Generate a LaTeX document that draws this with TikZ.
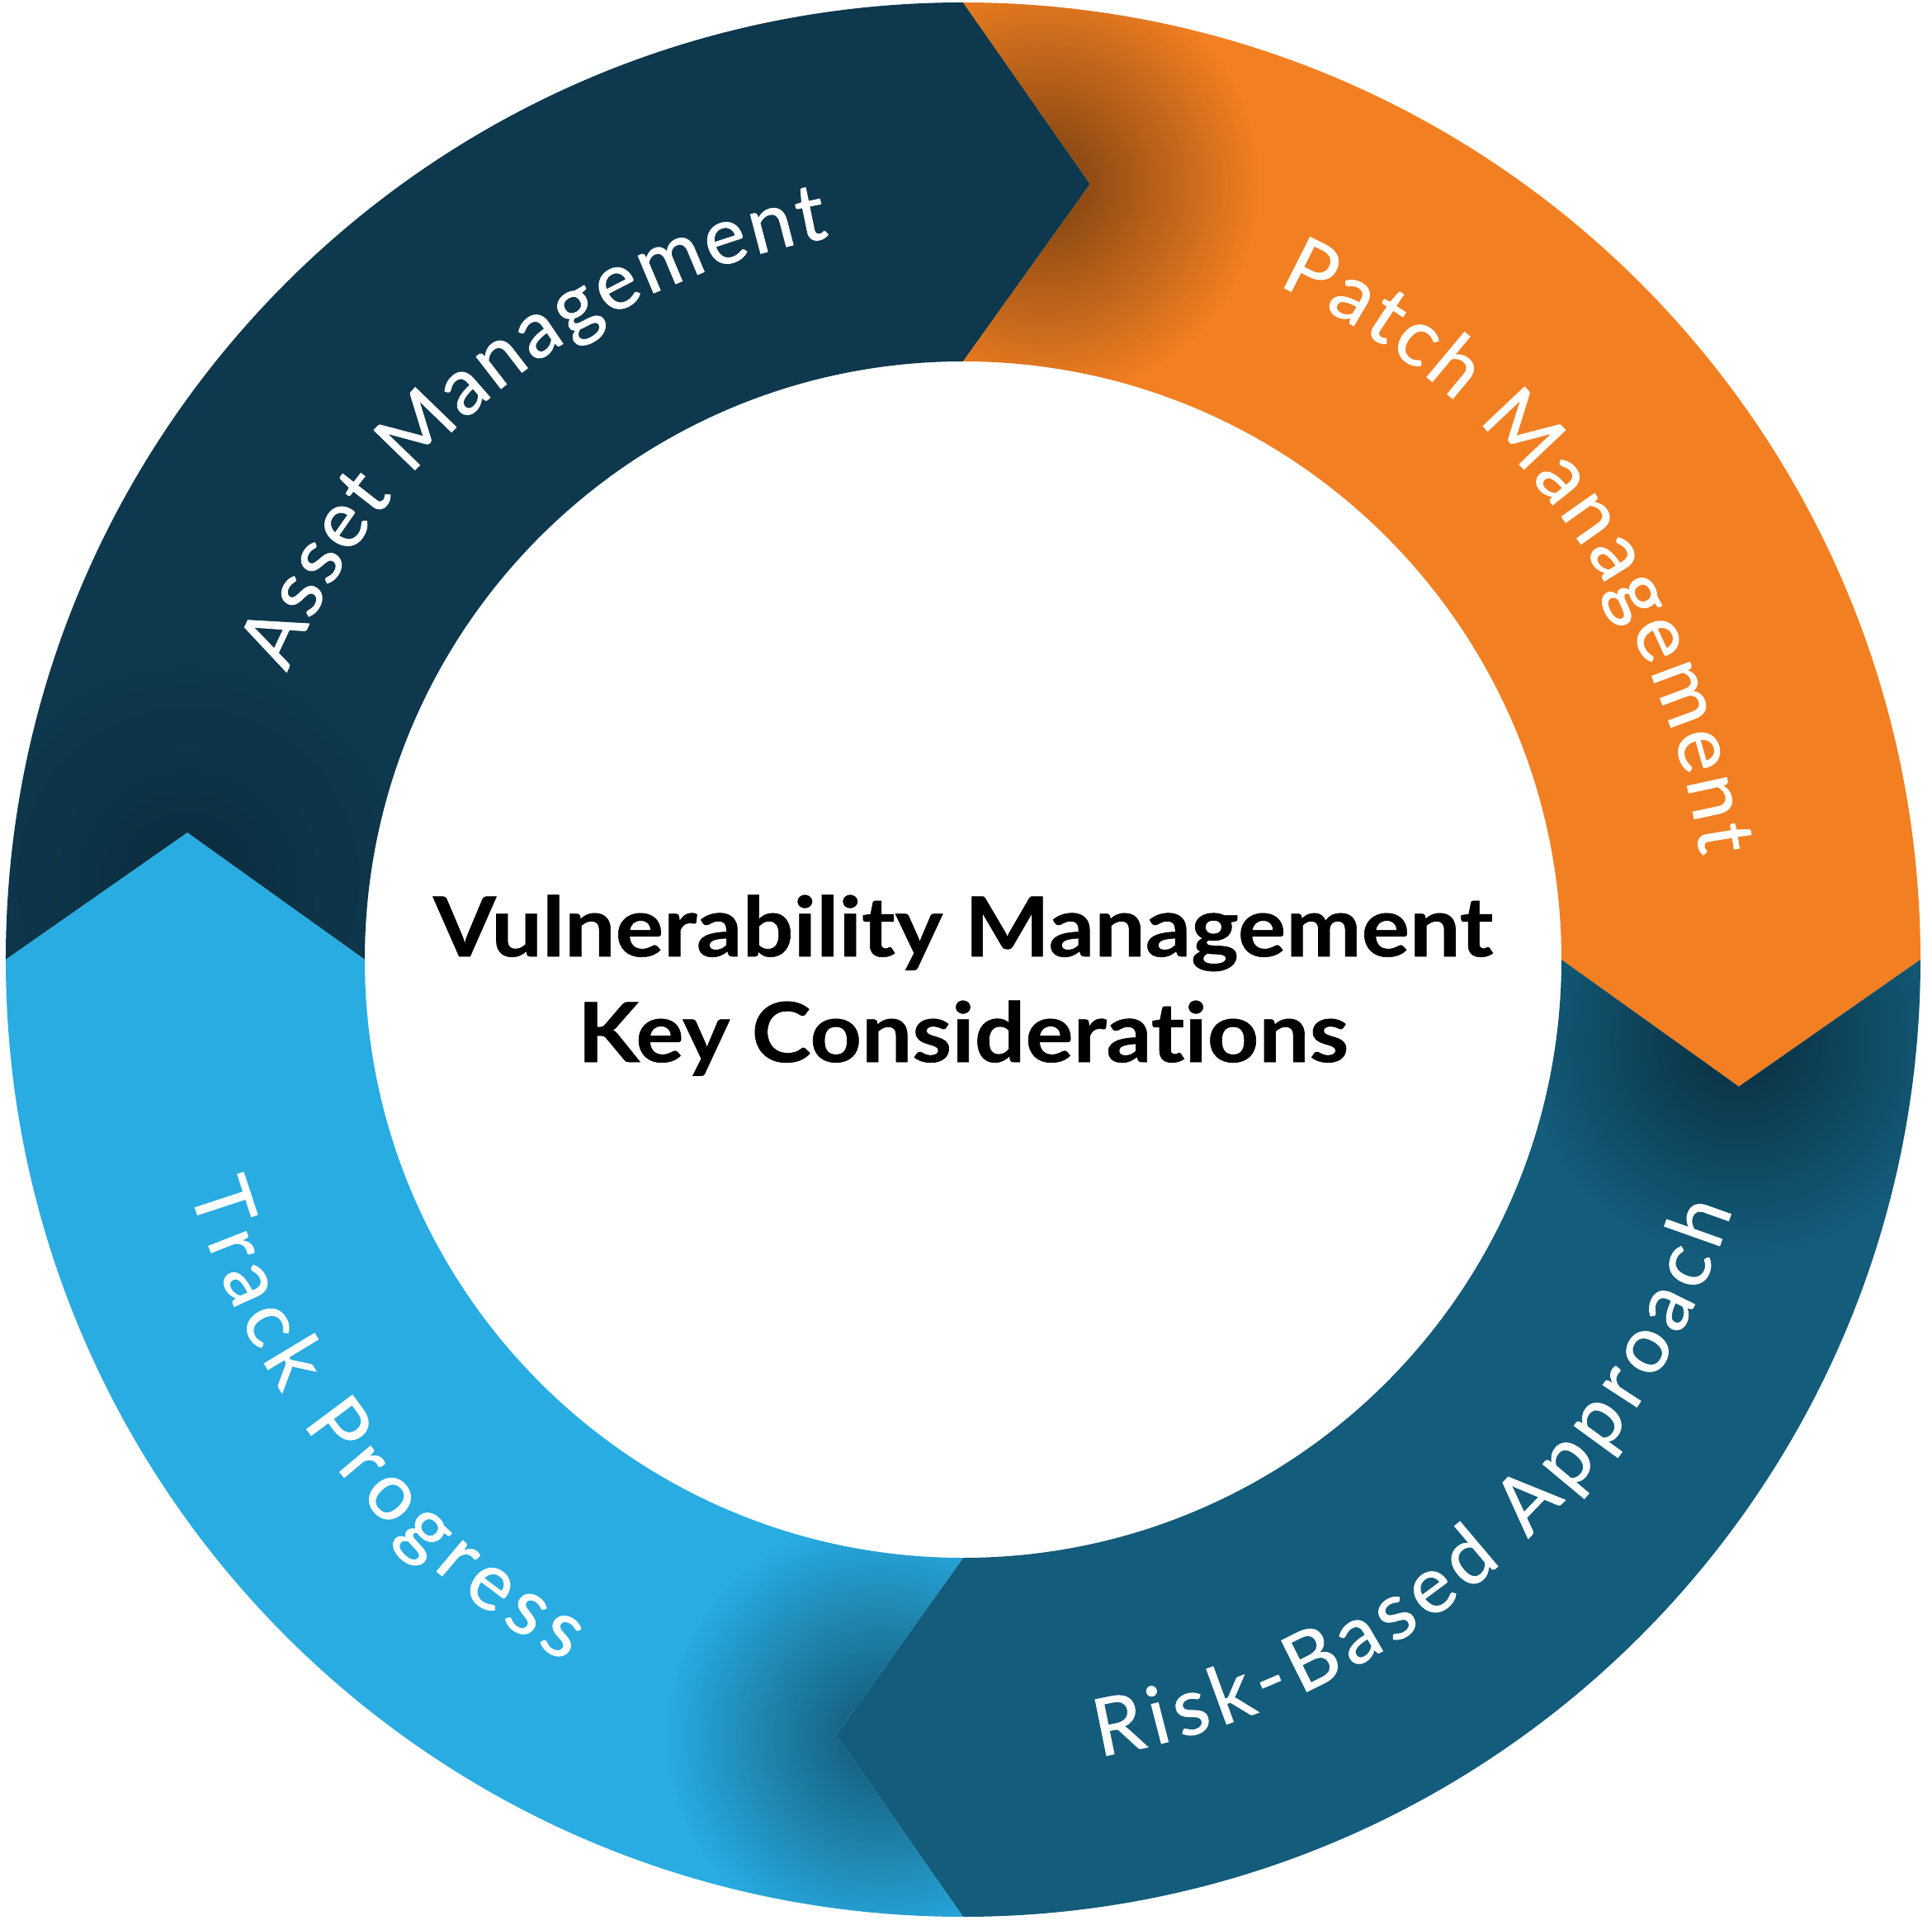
\documentclass[tikz,border=0pt]{standalone}
\usepackage{graphicx}
\usepackage{fontspec}
\setmainfont{Lato}[Ligatures=NoCommon]
\newfontfamily\labelfont{Lato}[Ligatures=NoCommon, FakeBold=0.9]
\newfontfamily\titlefont{Lato}[Ligatures=NoCommon, BoldFeatures={FakeBold=0.6}]
\usetikzlibrary{decorations.text,fadings}
\definecolor{segnavy}{HTML}{0E384D}
\definecolor{segorange}{HTML}{F28022}
\definecolor{segteal}{HTML}{145C7B}
\definecolor{segsky}{HTML}{28ACE2}
\tikzfading[name=shadowfade, inner color=transparent!0, outer color=transparent!100]
\newcommand\ringseg[1]{({#1}:\Ro) arc[start angle={#1}, end angle={#1-90}, radius=\Ro] -- ({#1-99.3}:\Rt) -- ({#1-90}:\Ri) arc[start angle={#1-90}, end angle={#1}, radius=\Ri] -- ({#1-9.3}:\Rt) -- cycle}
\tikzset{
  titlestyle/.style={font=\titlefont\bfseries\fontsize{28.5}{34}\selectfont, text=black, inner sep=0pt, anchor=base},
  shadowdisc/.style={black, opacity=0.5, path fading=shadowfade},
  ringlabel/.style={decorate, decoration={text along path, text={|\labelfont\fontsize{27.5}{30}\selectfont|#1}, text color=white, text align={fit to path}}},
}
\begin{document}
\begin{tikzpicture}
\useasboundingbox (-11.67,-11.69) rectangle (11.74,11.63);
\def\Ro{11.6}\def\Ri{7.25}\def\Rt{9.525}
% segments
\fill[segnavy] \ringseg{180};
\fill[segorange] \ringseg{90};
\fill[segteal] \ringseg{0};
\fill[segsky] \ringseg{270};
% shadows cast by arrow tips
\begin{scope}
  \clip \ringseg{90};
  \fill[shadowdisc] (84:9.45) circle (2.6cm);
\end{scope}
\begin{scope}
  \clip \ringseg{0};
  \fill[shadowdisc] (-6:9.45) circle (2.6cm);
\end{scope}
\begin{scope}
  \clip \ringseg{270};
  \fill[shadowdisc] (264:9.45) circle (2.6cm);
\end{scope}
\begin{scope}
  \clip \ringseg{180};
  \fill[shadowdisc, opacity=0.18] (174:9.45) circle (2.6cm);
\end{scope}
% labels along the ring
\path[ringlabel={Asset Management}]
  (157:8.9) arc[start angle=157, end angle=100.5, radius=8.9];
\path[ringlabel={Patch Management}]
  (65:9.02) arc[start angle=65, end angle=8, radius=9.02];
\path[ringlabel={Risk-Based Approach}]
  (-80.3:9.8) arc[start angle=-80.3, end angle=-18, radius=9.8];
\path[ringlabel={Track Progress}]
  (196.5:9.78) arc[start angle=196.5, end angle=240.5, radius=9.78];
% title
\node[titlestyle] (title1) at (0,0.04) {\scalebox{1.09}[1]{Vulnerability Management}};
\node[titlestyle] (title2) at (0,-1.24) {\scalebox{1.085}[1]{Key Considerations}};
\end{tikzpicture}
\end{document}
